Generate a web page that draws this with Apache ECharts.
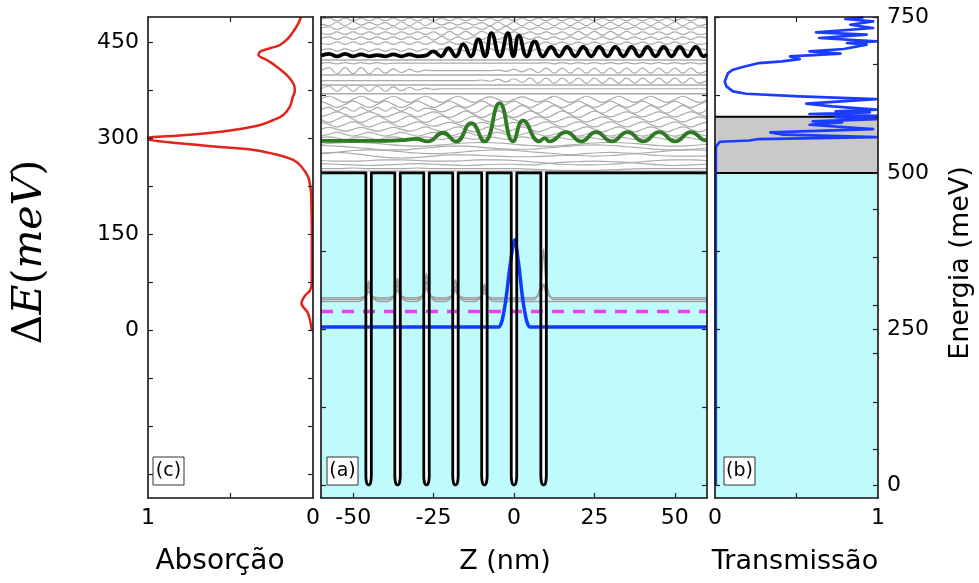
<!DOCTYPE html>
<html>
<head>
<meta charset="utf-8">
<script src="https://cdn.jsdelivr.net/npm/echarts@6/dist/echarts.min.js"></script>
<style>
  html, body { margin: 0; padding: 0; background: #fff; }
  #chart { width: 979px; height: 583px; }
</style>
</head>
<body>
<div id="chart"></div>
<script>
// ---------- (c) absorption spectrum: value vs. transition energy ΔE (meV) ----------
const absDE  = [0,26,42,53,62,73,100,150,200,215,230,239.5,255,265.6,273.4,281.3,286.4,291.7,297,300,302.5,307.3,312.5,320.3,328.1,335.9,348.9,362,375,385.5,398.4,411.4,421.9,430,434.8,440.2,445.3,455.8,466.1,476.6,488.6];
const absVal = [0.008,0.03,0.07,0.05,0.018,0.008,0.007,0.007,0.01,0.012,0.02,0.03,0.07,0.12,0.21,0.36,0.58,0.81,0.99,1,0.89,0.645,0.48,0.32,0.24,0.18,0.14,0.125,0.11,0.12,0.16,0.22,0.28,0.33,0.32,0.26,0.2,0.15,0.12,0.094,0.073];

// ---------- (b) transmission vs. energy (meV) ----------
const transE   = [0,540,544,550,552,554.4,557.6,561.3,565,570.4,577.3,581,582.6,586.4,589.6,591.7,594.5,597,598.6,601.4,606.6,611,618.5,622.7,627,630.7,638.7,646.7,649.5,660.2,665.5,669.8,676.2,678.8,682.6,686.8,691.2,694.8,698.7,705.6,708.3,710.9,716.3,721.6,725.3,732.4,737.6,742.9,746.8,749];
const transVal = [0.005,0.005,0.01,0.03,0.21,0.27,0.99,0.42,0.34,0.97,0.58,0.78,0.6,0.99,0.74,0.99,0.58,0.95,0.74,0.99,0.72,0.56,0.99,0.52,0.19,0.11,0.07,0.06,0.06,0.08,0.11,0.17,0.27,0.41,0.52,0.46,0.77,0.58,0.79,0.93,0.81,0.99,0.64,0.93,0.62,0.97,0.83,0.97,0.8,0.91];
const barrierTop = 500;   // conduction-band offset (meV)
const bandTop = 590;      // upper edge of the shaded continuum band (meV)

// ---------- (a) potential profile ----------
const wellCenters = [-45.2, -36.2, -27.2, -18.2, -9.2, 0, 9.2];
const wellWidth = 1.7;    // nm
const zMin = -60, zMax = 60;

// bound states
const groundZ = [-60,-4.8,-3.9,-3.2,-2.4,-1.1,0.2,1.4,2.6,3.4,4.1,5.0,60];
const groundE = [253,253,260,276,302,356,393,356,302,276,260,253,253];
const dashedLevel = 278;

const minibandStates = [
  [[-60,294],[-48.2,294],[-46.8,298.3],[-45.9,307.2],[-45.2,327],[-44.5,307.2],[-43.6,298.3],[-42.2,294],
   [-39.2,294],[-37.8,298.8],[-36.9,308.8],[-36.2,331],[-35.5,308.8],[-34.6,298.8],[-33.2,294],
   [-30.2,294],[-28.8,299.9],[-27.9,312],[-27.2,339],[-26.5,312],[-25.6,299.9],[-24.2,294],
   [-21.2,294],[-19.8,298.6],[-18.9,308],[-18.2,329],[-17.5,308],[-16.6,298.6],[-15.2,294],
   [-12.2,294],[-10.8,297.6],[-9.9,305.2],[-9.2,322],[-8.5,305.2],[-7.6,297.6],[-6.2,294],[60,294]],
  [[-60,297],[-48.2,297],[-46.8,299.7],[-45.9,305.4],[-45.2,318],[-44.5,305.4],[-43.6,299.7],[-42.2,297],
   [-39.2,297],[-37.8,300],[-36.9,306.2],[-36.2,320],[-35.5,306.2],[-34.6,300],[-33.2,297],
   [-30.2,297],[-28.8,300.8],[-27.9,308.6],[-27.2,326],[-26.5,308.6],[-25.6,300.8],[-24.2,297],
   [-21.2,297],[-19.8,299.7],[-18.9,305.4],[-18.2,318],[-17.5,305.4],[-16.6,299.7],[-15.2,297],
   [-12.2,297],[-10.8,299.2],[-9.9,303.8],[-9.2,314],[-8.5,303.8],[-7.6,299.2],[-6.2,297],
   [6.2,297],[7.6,307.5],[8.5,329.4],[9.2,378],[9.9,329.4],[10.8,307.5],[12.2,297],[60,297]],
  [[-60,300],[-48.2,300],[-46.8,301.3],[-45.9,304],[-45.2,310],[-44.5,304],[-43.6,301.3],[-42.2,300],
   [-39.2,300],[-37.8,301.6],[-36.9,304.8],[-36.2,312],[-35.5,304.8],[-34.6,301.6],[-33.2,300],
   [-30.2,300],[-28.8,302],[-27.9,306.4],[-27.2,316],[-26.5,306.4],[-25.6,302],[-24.2,300],
   [-21.2,300],[-19.8,301.6],[-18.9,304.8],[-18.2,312],[-17.5,304.8],[-16.6,301.6],[-15.2,300],
   [-12.2,300],[-10.8,301],[-9.9,303.2],[-9.2,308],[-8.5,303.2],[-7.6,301],[-6.2,300],
   [6.2,300],[7.6,302.9],[8.5,308.8],[9.2,322],[9.9,308.8],[10.8,302.9],[12.2,300],[60,300]]
];

// highlighted continuum states
const greenZ = [-60,-40,-35,-30.5,-26.8,-22.1,-18,-13.3,-9.2,-4.5,-0.3,2.8,7.9,9.5,11,16.2,20.9,25.5,30.4,35.3,40.2,45.1,50.1,55,59.8,60];
const greenE = [551.5,551.5,552.5,554.5,550.5,564.5,550.5,580,550.5,612,550.5,584,550.5,556,550.5,565.5,550.5,565.5,550.5,565.5,550.5,565.5,550.5,565.5,552,552];
const blackZ = [-60,-57.5,-55,-52.5,-50,-47.5,-45,-42.5,-40,-37.5,-35,-32.5,-30,-27.5,-25.1,-22.7,-20.4,-18.1,-15.8,-13.4,-11.1,-9,-7,-4.4,-1.9,-0.2,1.5,4,6.4,9,11.5,14,16.5,19,21.5,24,26.5,29,31.5,34,36.5,39,41.5,44,46.5,49,51.5,54,56.5,59,60];
const blackE = [688,691,687,691,687,690,687,689,687,690,687,690,687,688,695,687,700,687,706,687,714,687,724,687,724,687,720,687,711,687,702,687,702,687,702,687,702,687,702,687,702,687,702,687,702,687,702,687,702,687,690];

// other continuum states: level (meV) + deviation (meV) sampled along z
const zFine = [-60,-57.5,-55,-52.5,-50,-47.5,-45,-42.5,-40,-37.5,-35,-32.5,-30,-27.5,-25,-22.5,-20,-17.5,-15,-12.5,-10,-7.5,-5,-2.5,0,2.5,5,7.5,10,12.5,15,17.5,20,22.5,25,27.5,30,32.5,35,37.5,40,42.5,45,47.5,50,52.5,55,57.5,60];
const contFineLevels = [746,739,732,724,716,708,697,676,664,648,635,618,610,602,594,586,578,570,562,556];
const contFineWaves = [
  [0,2,-2,2,-2,2,-2, 2,-2,2,-2,2,-2,2, -2,2,-2,2,-2,2,-2, 2,-2,2,-2,2,-2,2, -2,2,-2,2,-2,2,-2, 2,-2,2,-2,2,-2,2, -2,2,-2,2,-2,2,0],
  [0,-3,3,-3,3,-2,2, -2,2,-3,3,-3,3,-3, 3,-2,2,-2,2,-2,2, -3,3,-3,3,-3,3,-3, 3,-3,3,-3,3,-3,3, -3,3,-3,3,-3,3,-3, 3,-3,3,-3,3,-3,0],
  [0,2,-2,2,-2,2,-2, 2,-2,2,-2,2,-2,1, -1,2,-2,2,-2,2,-2, 3,-3,3,-3,2,-2,2, -2,2,-2,2,-2,2,-2, 2,-2,2,-2,2,-2,2, -2,2,-2,2,-2,2,0],
  [0,-2,2,-2,2,-2,2, -2,2,-2,2,-2,2,-2, 2,-3,3,-3,3,-3,3, -2,2,-2,2,-2,2,-2, 2,-2,2,-3,3,-3,3, -3,3,-3,3,-2,2,-2, 2,-2,2,-2,2,-2,0],
  [0,2,-2,2,-2,2,-2, 2,-2,2,-2,2,-2,3, -3,3,-3,2,-2,2,-2, 2,-2,2,-2,2,-2,2, -2,2,-2,2,-2,2,-2, 2,-2,2,-2,2,-2,2, -2,2,-2,2,-2,2,0],
  [0,-2,2,-2,2,-2,2, -2,2,-2,2,-2,2,-2, 2,-2,2,-2,2,-2,2, -2,2,-2,2,-2,2,-2, 2,-2,2,-2,2,-2,2, -2,2,-2,2,-2,2,-2, 2,-2,2,-2,2,-2,0],
  [0,2,-2,2,-2,2,-2, 2,-2,2,-2,2,-2,2, -2,2,-2,2,-2,2,-2, 2,-2,2,-2,2,-2,2, -2,2,-2,2,-2,2,-2, 2,-2,2,-2,2,-2,2, -2,2,-2,2,-2,2,0],
  [0,1,-1,1,-1,1,-1, 1,-1,0,0,0,0,0, 0,0,0,0,0,0,0, 0,0,0,0,0,0,0, 1,-1,1,-1,1,-1,1, -1,1,-1,1,-1,1,-1, 1,-1,1,-1,1,-1,0],
  [0,5,-5,5,-5,5,-5, 4,-4,3,-3,2,-2,1, 0,0,0,0,0,0,0, 0,1,-1,2,-2,3,-3, 4,-4,4,-4,4,-4,4, -4,4,-4,4,-4,4,-4, 4,-4,4,-4,4,-4,0],
  [0,0,0,0,0,0,0, 0,0,0,0,0,0,0, 0,0,0,0,0,0,1, -1,2,-2,3,-3,4,-4, 4,-4,4,-4,4,-4,4, -4,4,-4,4,-4,4,-4, 4,-4,4,-4,4,-4,0],
  [0,4,-4,4,-4,4,-4, 4,-4,3,-3,2,-2,1, -1,0,0,0,0,0,0, 0,0,0,0,0,0,0, 0,0,0,0,0,0,0, 0,0,0,0,0,0,0, 0,0,0,0,0,0,0],
  [0,5,0,-5,0,5,0, -5,0,5,0,-5,0,5, 0,-5,0,5,0,-5,0, 4,0,-4,0,4,0,-4, 0,5,0,-5,0,5,0, -5,0,5,0,-5,0,5, 0,-5,0,5,0,-5,0],
  [5,0,-5,0,5,0,-5, 0,5,0,-5,0,5,0, -5,0,5,0,-5,0,5, 0,-5,0,5,0,-5,0, 5,0,-5,0,5,0,-5, 0,5,0,-5,0,5,0, -5,0,5,0,-5,0,5],
  [0,3,-3,3,-3,3,-3, 3,-3,3,-3,3,-3,2, 0,-4,0,5,0,-6,0, 6,0,-6,0,6,0,-6, 0,6,0,-6,0,6,0, -6,0,6,0,-6,0,6, 0,-6,0,6,0,-6,0],
  [-4,0,4,0,-4,0,4, 0,-4,0,4,0,-4,0, 4,0,-5,0,5,0,-5, 0,5,0,-5,0,5,0, -5,0,5,0,-5,0,5, 0,-4,0,4,0,-4,0, 4,0,-4,0,4,0,-4],
  [0,-5,0,5,0,-5,0, 5,0,-5,0,5,0,-5, 0,5,0,-5,0,5,0, -4,0,4,0,-4,0,4, 0,-4,0,4,0,-4,0, 4,0,-4,0,4,0,-4, 0,4,0,-4,0,4,0],
  [4,0,-4,0,4,0,-4, 0,4,0,-4,0,4,0, -3,0,3,0,-3,0,3, 0,-3,0,3,0,-3,0, 4,0,-4,0,4,0,-4, 0,4,0,-4,0,4,0, -4,0,4,0,-4,0,4],
  [0,3,0,-3,0,3,0, -3,0,3,0,-3,0,4, 0,-4,0,4,0,-4,0, 4,0,-4,0,4,0,-4, 0,4,0,-4,0,4,0, -4,0,4,0,-4,0,4, 0,-4,0,4,0,-4,0],
  [-3,0,3,0,-3,0,3, 0,-3,0,3,0,-3,0, 3,0,-3,0,3,0,-3, 0,3,0,-3,0,3,0, -3,0,3,0,-3,0,3, 0,-3,0,3,0,-3,0, 3,0,-3,0,3,0,-3],
  [0,2,0,-2,0,2,0, -2,0,2,0,-2,0,2, 0,-2,0,2,0,-2,0, 2,0,-2,0,2,0,-2, 0,2,0,-2,0,2,0, -2,0,2,0,-2,0,2, 0,-2,0,2,0,-2,0]
];
const zCoarse = [-60,-55,-50,-45,-40,-35,-30,-25,-20,-15,-10,-5,0,5,10,15,20,25,30,35,40,45,50,55,60];
const contCoarseLevels = [546,540,534,527,520,513,507];
const contCoarseWaves = [
  [0,2,3,2,0,-2,-3,-2,0,2,3,2,0,-2,-3,-2,0,2,3,2,0,-2,-3,-2,0],
  [4,3,1,-1,-3,-3,-1,1,3,3,1,-1,-2,-2,0,2,4,5,4,2,0,-2,-3,-2,0],
  [-3,-1,2,3,2,0,-2,-3,-2,0,2,3,2,0,-2,-4,-6,-7,-6,-4,-2,0,2,3,2],
  [5,6,4,1,-2,-3,-2,0,2,2,1,0,-1,-1,0,1,3,5,6,5,3,1,0,0,0],
  [0,-1,-1,0,1,1,0,-1,-1,0,1,1,0,-2,-4,-6,-7,-7,-6,-4,-2,0,1,1,0],
  [2,1,0,-1,0,1,2,1,0,-1,0,1,1,0,2,4,5,6,5,4,2,0,-1,0,1],
  [0,0,1,0,0,0,1,0,0,0,0,0,0,-1,-2,-3,-3,-3,-2,-1,0,0,0,0,0]
];
const contFlatLevels = [681, 657, 641, 627, 503];

// ---------- axes ----------
const deMin = -262.5, deMax = 489;
const deTicks = [-225,-150,-75,0,75,150,225,300,375,450];
const deLabels = [0,150,300,450];
const eMin = -21, eMax = 750;
const eTicks = [0,125,250,375,500,625,750];
const eLabels = [0,250,500,750];
const eTicksRight = [0,57.7,133,211.7,250,288.6,365.6,442.6,500,673.5,750];
const zTicks = [-50,-25,0,25,50];

// ---------- styling ----------
const TICK_FONT = 'DejaVu Sans';
const CYAN = '#bffbfc';
const BAND_GREY = '#c9c9c9';
const STATE_GREY = '#ababab';

const zip = (xs, ys) => xs.map((x, i) => [x, ys[i]]);

function axis(gridIndex, position, min, max, tickVals, labelVals, inverse) {
  return {
    type: 'value', gridIndex, position, min, max, inverse: !!inverse, z: 10,
    axisLine: { show: true, onZero: false, lineStyle: { color: '#111', width: 1.6 } },
    axisTick: { show: tickVals.length > 0, inside: true, length: 5, customValues: tickVals,
                lineStyle: { color: '#222', width: 1.2 } },
    axisLabel: labelVals
      ? { show: true, customValues: labelVals, color: '#000', fontFamily: TICK_FONT, fontSize: 22, margin: 9 }
      : { show: false },
    splitLine: { show: false }
  };
}

// square-well potential profile (rounded well bottoms) built from the well list
const potential = [[zMin, barrierTop]];
wellCenters.forEach(c => {
  const h = wellWidth / 2;
  potential.push(
    [c - h, barrierTop], [c - h, 14], [c - 0.7 * h, 3], [c - 0.3 * h, 0],
    [c + 0.3 * h, 0], [c + 0.7 * h, 3], [c + h, 14], [c + h, barrierTop]
  );
});
potential.push([zMax, barrierTop]);

const series = [];

// panel (c)
series.push({
  type: 'line', xAxisIndex: 0, yAxisIndex: 0, data: zip(absVal, absDE),
  showSymbol: false, smooth: 0.4, lineStyle: { color: '#e2231a', width: 2.5 }, z: 3
});

// panel (a): cyan fill under the potential
series.push({
  type: 'line', xAxisIndex: 2, yAxisIndex: 2, data: potential, showSymbol: false,
  lineStyle: { width: 0 }, areaStyle: { color: CYAN, opacity: 1, origin: 'start' }, z: 1
});
contFineLevels.forEach((lv, k) => {
  series.push({
    type: 'line', xAxisIndex: 2, yAxisIndex: 2, showSymbol: false, smooth: 0.5,
    data: zip(zFine, contFineWaves[k].map(d => lv + d)),
    lineStyle: { color: STATE_GREY, width: 1.2 }, z: 2
  });
});
contCoarseLevels.forEach((lv, k) => {
  series.push({
    type: 'line', xAxisIndex: 2, yAxisIndex: 2, showSymbol: false, smooth: 0.5,
    data: zip(zCoarse, contCoarseWaves[k].map(d => lv + d)),
    lineStyle: { color: STATE_GREY, width: 1.2 }, z: 2
  });
});
contFlatLevels.forEach(lv => {
  series.push({
    type: 'line', xAxisIndex: 2, yAxisIndex: 2, showSymbol: false,
    data: [[zMin, lv], [zMax, lv]], lineStyle: { color: STATE_GREY, width: 1.4 }, z: 2
  });
});
minibandStates.forEach(pts => {
  series.push({
    type: 'line', xAxisIndex: 2, yAxisIndex: 2, showSymbol: false, smooth: 0.3,
    data: pts, lineStyle: { color: '#a0a0a0', width: 1.5 }, z: 2
  });
});
series.push({
  type: 'line', xAxisIndex: 2, yAxisIndex: 2, showSymbol: false,
  data: [[zMin, dashedLevel], [zMax, dashedLevel]],
  lineStyle: { color: '#f03cf0', width: 3.5, type: [12, 9] }, z: 3
});
series.push({
  type: 'line', xAxisIndex: 2, yAxisIndex: 2, showSymbol: false, smooth: 0.3,
  data: zip(groundZ, groundE), lineStyle: { color: '#0f3cff', width: 3.5 }, z: 3
});
series.push({
  type: 'line', xAxisIndex: 2, yAxisIndex: 2, showSymbol: false, smooth: 0.5,
  data: zip(greenZ, greenE), lineStyle: { color: '#2e7a23', width: 3.8 }, z: 3
});
series.push({
  type: 'line', xAxisIndex: 2, yAxisIndex: 2, showSymbol: false, smooth: 0.5,
  data: zip(blackZ, blackE), lineStyle: { color: '#000', width: 3.8 }, z: 3
});
series.push({
  type: 'line', xAxisIndex: 2, yAxisIndex: 2, data: potential, showSymbol: false, smooth: 0.2,
  lineStyle: { color: '#000', width: 2.8, join: 'round' }, z: 4
});

// panel (b)
series.push({
  type: 'line', xAxisIndex: 4, yAxisIndex: 4, showSymbol: false,
  data: [[0, bandTop], [1, bandTop]],
  lineStyle: { color: '#000', width: 2 }, areaStyle: { color: BAND_GREY, opacity: 1, origin: 'start' }, z: 1
});
series.push({
  type: 'line', xAxisIndex: 4, yAxisIndex: 4, showSymbol: false,
  data: [[0, barrierTop], [1, barrierTop]],
  lineStyle: { color: '#000', width: 2 }, areaStyle: { color: CYAN, opacity: 1, origin: 'start' }, z: 1
});
series.push({
  type: 'line', xAxisIndex: 4, yAxisIndex: 4, showSymbol: false,
  data: zip(transVal, transE), lineStyle: { color: '#1a3cff', width: 2.7, join: 'round' }, z: 3
});

function panelTag(x, y, txt) {
  return {
    type: 'group', x, y, children: [
      { type: 'rect', z: 100, shape: { x: 0, y: 0, width: 31, height: 28 },
        style: { fill: '#fff', stroke: '#333', lineWidth: 1 } },
      { type: 'text', z: 101, x: 15.5, y: 14.5,
        style: { text: txt, font: '19px "DejaVu Sans"', fill: '#000', align: 'center', verticalAlign: 'middle' } }
    ]
  };
}

const option = {
  animation: false,
  backgroundColor: '#fff',
  grid: [
    { left: 148, top: 17, width: 165, height: 481 },
    { left: 321, top: 17, width: 386, height: 481 },
    { left: 715, top: 17, width: 163, height: 481 }
  ],
  xAxis: [
    axis(0, 'bottom', 0, 1, [0.5], [0, 1], true),
    axis(0, 'top', 0, 1, [0.5], null, true),
    axis(1, 'bottom', zMin, zMax, zTicks, zTicks),
    axis(1, 'top', zMin, zMax, zTicks, null),
    axis(2, 'bottom', 0, 1, [0.5], [0, 1]),
    axis(2, 'top', 0, 1, [0.5], null)
  ],
  yAxis: [
    axis(0, 'left', deMin, deMax, deTicks, deLabels),
    axis(0, 'right', deMin, deMax, deTicks, null),
    axis(1, 'left', eMin, eMax, eTicks, null),
    axis(1, 'right', eMin, eMax, eTicks, null),
    axis(2, 'left', eMin, eMax, eTicks, null),
    axis(2, 'right', eMin, eMax, eTicksRight, eLabels)
  ],
  series,
  graphic: [
    { type: 'text', x: 30, y: 252, rotation: Math.PI / 2,
      style: {
        text: '{u|Δ}{i|E}{u|(}{i|meV}{u|)}', align: 'center', verticalAlign: 'middle',
        rich: {
          u: { fontFamily: 'DejaVu Serif', fontSize: 41, fill: '#000' },
          i: { fontFamily: 'DejaVu Serif', fontStyle: 'italic', fontSize: 41, fill: '#000' }
        }
      } },
    { type: 'text', x: 220, y: 562,
      style: { text: 'Absorção', font: '28px "DejaVu Sans"', fill: '#000', align: 'center', verticalAlign: 'middle' } },
    { type: 'text', x: 505, y: 562,
      style: { text: 'Z (nm)', font: '27px "DejaVu Sans"', fill: '#000', align: 'center', verticalAlign: 'middle' } },
    { type: 'text', x: 795, y: 562,
      style: { text: 'Transmissão', font: '27px "DejaVu Sans"', fill: '#000', align: 'center', verticalAlign: 'middle' } },
    { type: 'text', x: 961, y: 263, rotation: Math.PI / 2,
      style: { text: 'Energia (meV)', font: '27px "DejaVu Sans"', fill: '#000', align: 'center', verticalAlign: 'middle' } },
    panelTag(153, 457, '(c)'),
    panelTag(327, 457, '(a)'),
    panelTag(724, 457, '(b)')
  ]
};

const chart = echarts.init(document.getElementById('chart'));
chart.setOption(option);
</script>
</body>
</html>
